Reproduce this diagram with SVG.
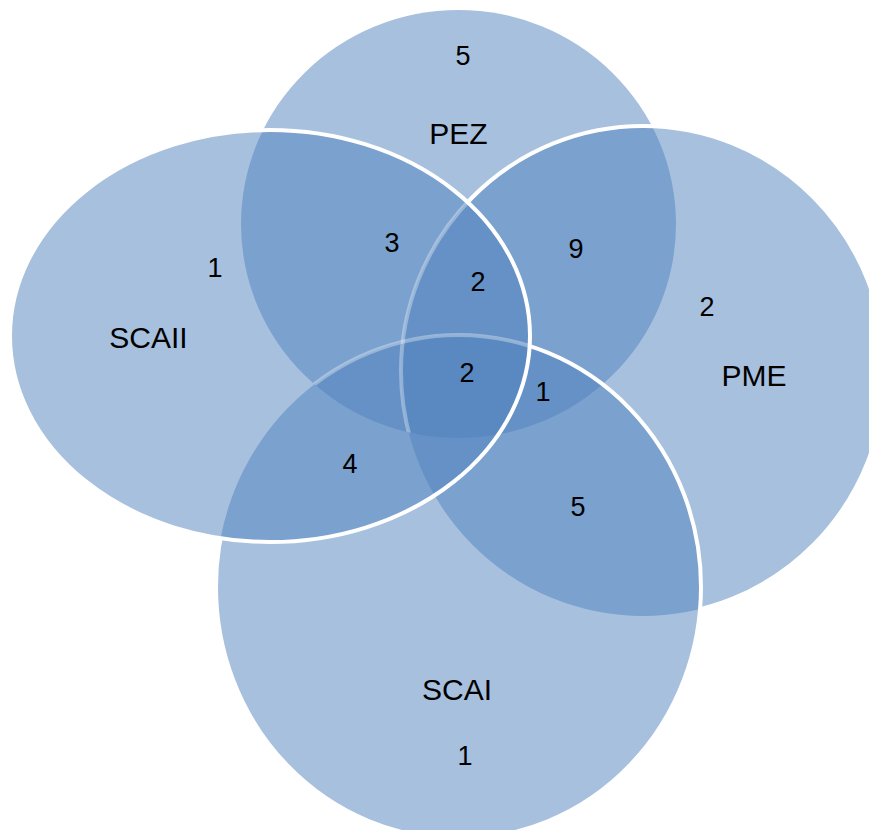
<svg xmlns="http://www.w3.org/2000/svg" width="869" height="830" viewBox="0 0 869 830">
<style>
.set{fill:#4F81BD;fill-opacity:0.5;stroke:none}
.edge{fill:none;stroke:#FFFFFF;stroke-width:4}
.faint{fill:none;stroke:#FFFFFF;stroke-width:4;stroke-opacity:0.33}
.lbl{font-family:"Liberation Sans",Arial,sans-serif;font-size:30px;fill:#000;text-anchor:middle}
.num{font-family:"Liberation Sans",Arial,sans-serif;font-size:27px;fill:#000;text-anchor:middle}
</style>
<defs>
<clipPath id="inSCAII"><ellipse cx="270" cy="336" rx="260" ry="206"/></clipPath>
<clipPath id="inPEZ"><ellipse cx="458.5" cy="224" rx="217.5" ry="214"/></clipPath>
<mask id="outSCAII" maskUnits="userSpaceOnUse" x="0" y="0" width="869" height="830">
<rect x="0" y="0" width="869" height="830" fill="#fff"/>
<ellipse cx="270" cy="336" rx="260" ry="206" fill="#000"/>
</mask>
<mask id="outSCAII_SCAI" maskUnits="userSpaceOnUse" x="0" y="0" width="869" height="830">
<rect x="0" y="0" width="869" height="830" fill="#fff"/>
<ellipse cx="270" cy="336" rx="260" ry="206" fill="#000"/>
<ellipse cx="458.5" cy="587" rx="242.5" ry="252" fill="#000"/>
</mask>
</defs>
<rect x="0" y="0" width="869" height="830" fill="#FFFFFF"/>
<g id="PEZ">
<ellipse class="set" cx="458.5" cy="224" rx="217.5" ry="214"/>
</g>
<g id="PME">
<ellipse class="set" cx="643" cy="371" rx="242" ry="245"/>
<ellipse class="edge" cx="643" cy="371" rx="242" ry="245" mask="url(#outSCAII_SCAI)"/>
</g>
<g id="SCAI">
<ellipse class="set" cx="458.5" cy="587" rx="242.5" ry="252"/>
<ellipse class="edge" cx="458.5" cy="587" rx="242.5" ry="252" mask="url(#outSCAII)"/>
</g>
<g id="SCAII">
<ellipse class="set" cx="270" cy="336" rx="260" ry="206"/>
<ellipse class="edge" cx="270" cy="336" rx="260" ry="206"/>
</g>
<g id="faint-edges" clip-path="url(#inSCAII)">
<g clip-path="url(#inPEZ)">
<ellipse class="faint" cx="643" cy="371" rx="242" ry="245"/>
<ellipse class="faint" cx="458.5" cy="587" rx="242.5" ry="252"/>
</g>
</g>
<g id="labels">
<text class="lbl" x="458.5" y="144">PEZ</text>
<text class="lbl" x="148.5" y="348">SCAII</text>
<text class="lbl" x="754" y="385.5">PME</text>
<text class="lbl" x="457" y="700">SCAI</text>
<text class="num" x="463" y="65">5</text>
<text class="num" x="392" y="251.5">3</text>
<text class="num" x="215" y="277">1</text>
<text class="num" x="576" y="258">9</text>
<text class="num" x="478" y="291">2</text>
<text class="num" x="707" y="315.5">2</text>
<text class="num" x="467" y="382">2</text>
<text class="num" x="543" y="401">1</text>
<text class="num" x="350" y="473">4</text>
<text class="num" x="578" y="516">5</text>
<text class="num" x="465" y="765">1</text>
</g>
</svg>
